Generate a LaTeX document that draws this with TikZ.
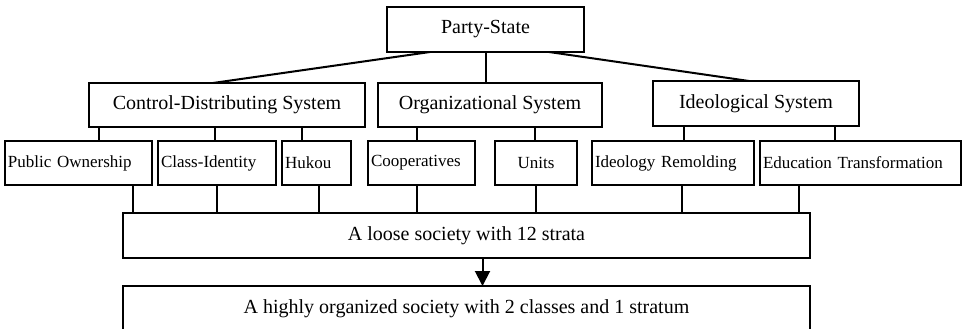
\documentclass[tikz,border=0pt]{standalone}
\usepackage{fontspec}
\setmainfont{Liberation Serif}
\usetikzlibrary{arrows.meta}

\begin{document}
\begin{tikzpicture}[x=1pt, y=-1pt,
  sysbox/.style={draw, line width=2pt, outer sep=0pt, minimum height=44pt, font=\fontsize{20}{24}\selectfont},
  leaf/.style={draw, line width=2pt, outer sep=0pt, minimum height=44pt, inner xsep=3pt, align=left, font=\fontsize{17}{20}\selectfont},
  link/.style={line width=2pt}]
\useasboundingbox (0,0) rectangle (964,329);
\clip (0,0) rectangle (964,329);
% Top level
\node[sysbox, minimum width=197pt, minimum height=45pt] (party) at (485.5,29.5) {Party-State};
% Systems
\node[sysbox, minimum width=276pt] (ctrl) at (227,105) {Control-Distributing System};
\node[sysbox, minimum width=224pt] (org) at (490,105) {Organizational System};
\node[sysbox, minimum width=206pt, minimum height=45pt] (ideo) at (756,103.5) {Ideological System};
% Sub-systems
\node[leaf, text width=141pt] (pubown) at (78.5,163) {Public Ownership};
\node[leaf, text width=112pt] (classid) at (217,163) {Class-Identity};
\node[leaf, text width=63pt] (hukou) at (316.5,163) {Hukou};
\node[leaf, text width=101pt] (coop) at (421.5,163) {Cooperatives};
\node[leaf, text width=76pt, align=center] (units) at (536,163) {Units};
\node[leaf, text width=156pt] (remold) at (673,163) {Ideology Remolding};
\node[leaf, text width=195pt] (educ) at (860.5,163) {Education Transformation};
% Societies
\node[sysbox, minimum width=687pt, minimum height=45pt] (loose) at (466.5,235.5) {A loose society with 12 strata};
\node[sysbox, minimum width=687pt, minimum height=45pt] (tight) at (466.5,308.5) {A highly organized society with 2 classes and 1 stratum};
% Party-State to systems
\draw[link] ([xshift=-55.5pt]party.south) -- ([xshift=-14pt]ctrl.north);
\draw[link] (party.south) -- (party.south |- org.north);
\draw[link] ([xshift=63.5pt]party.south) -- ([xshift=-7pt]ideo.north);
% systems to sub-systems
\draw[link] ([xshift=-128pt]ctrl.south) -- ([xshift=-128pt]ctrl.south |- pubown.north);
\draw[link] ([xshift=-12pt]ctrl.south) -- ([xshift=-12pt]ctrl.south |- classid.north);
\draw[link] ([xshift=75pt]ctrl.south) -- ([xshift=75pt]ctrl.south |- hukou.north);
\draw[link] ([xshift=-73pt]org.south) -- ([xshift=-73pt]org.south |- coop.north);
\draw[link] ([xshift=45pt]org.south) -- ([xshift=45pt]org.south |- units.north);
\draw[link] ([xshift=-72pt]ideo.south) -- ([xshift=-72pt]ideo.south |- remold.north);
\draw[link] ([xshift=79pt]ideo.south) -- ([xshift=79pt]ideo.south |- educ.north);
% sub-systems to loose society
\draw[link] ([xshift=54.5pt]pubown.south) -- ([xshift=54.5pt]pubown.south |- loose.north);
\draw[link] (classid.south) -- (classid.south |- loose.north);
\draw[link] ([xshift=2.5pt]hukou.south) -- ([xshift=2.5pt]hukou.south |- loose.north);
\draw[link] ([xshift=-4.5pt]coop.south) -- ([xshift=-4.5pt]coop.south |- loose.north);
\draw[link] (units.south) -- (units.south |- loose.north);
\draw[link] ([xshift=9pt]remold.south) -- ([xshift=9pt]remold.south |- loose.north);
\draw[link] ([xshift=-61.5pt]educ.south) -- ([xshift=-61.5pt]educ.south |- loose.north);
% loose to organized
\draw[link, -{Triangle[length=15pt, width=15pt]}] ([xshift=16pt]loose.south) -- ([xshift=16pt]loose.south |- tight.north);
\end{tikzpicture}
\end{document}
